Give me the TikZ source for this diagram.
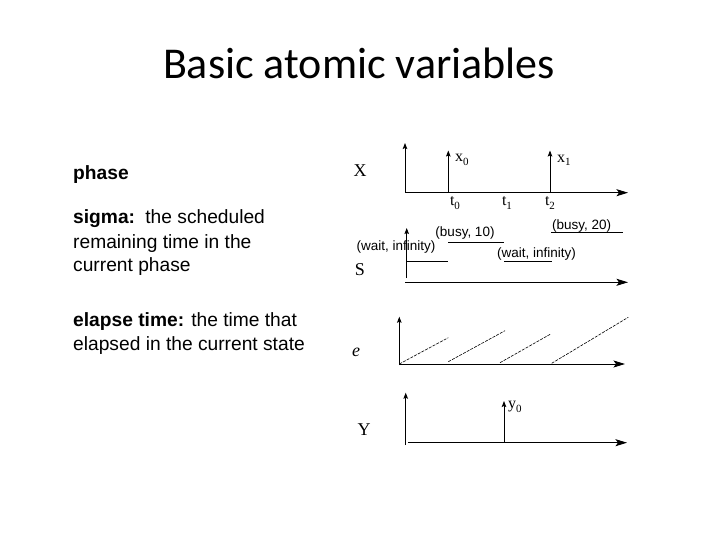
\documentclass[tikz,border=0pt]{standalone}
\usepackage{fontspec}
\setmainfont{Liberation Sans}
\newfontfamily\titlefont{Carlito}
\newfontfamily\serifont{Liberation Serif}
\usetikzlibrary{arrows.meta}
\newcommand{\lowsub}[1]{\raisebox{-0.45ex}{\fontsize{11}{12}\selectfont #1}}
\tikzset{
  hax/.style={line width=1pt,arrows={-Stealth[length=11.5pt,width=7pt,inset=2.5pt]}},
  vax/.style={line width=0.9pt,arrows={-Stealth[length=6pt,width=4.5pt,inset=1pt]}},
  seg/.style={line width=0.8pt},
  ramp/.style={line width=0.6pt,dash pattern=on 3pt off 1.2pt},
  bodytxt/.style={anchor=base west,inner sep=0pt,font=\fontsize{19.2}{23}\selectfont},
  smalllbl/.style={inner sep=0pt,font=\fontsize{13.5}{15}\selectfont},
  serlbl/.style={inner sep=0pt,font=\serifont\fontsize{16}{18}\selectfont},
  biglbl/.style={inner sep=0pt,font=\serifont\fontsize{18}{20}\selectfont},
}
\begin{document}
\begin{tikzpicture}[x=1pt,y=-1pt]
\path[use as bounding box,fill=white] (0,0) rectangle (720,540);
% title
\node[anchor=base,inner sep=0pt,font=\titlefont\fontsize{44}{50}\selectfont] (title) at (359,79) {Basic atomic variables};
% left text
\node[bodytxt] (l1) at (73,180) {\textbf{phase}};
\node[bodytxt] (l2) at (73,224) {\textbf{sigma:}\, the scheduled};
\node[bodytxt] (l3) at (73,248) {remaining time in the};
\node[bodytxt] (l4) at (73,271.5) {current phase};
\node[bodytxt] (l5) at (73,326.5) {\textbf{elapse time:} the time that};
\node[bodytxt] (l6) at (73,350) {elapsed in the current state};
% X panel
\coordinate (xo) at (405,192.7);
\coordinate (xt) at (405,143);
\coordinate (xe) at (628,192.7);
\draw[vax] (xo) -- (xt);
\draw[hax] (xo) -- (xe);
\coordinate (a0b) at (448.3,192.7); \coordinate (a0t) at (448.3,150.5);
\coordinate (a1b) at (550,192.7); \coordinate (a1t) at (550,150.5);
\draw[vax] (a0b) -- (a0t);
\draw[vax] (a1b) -- (a1t);
\node[serlbl,anchor=west] (x0) at (455,160) {x\lowsub{0}};
\node[serlbl,anchor=west] (x1) at (557,160) {x\lowsub{1}};
\node[biglbl] (Xl) at (360,171) {X};
\node[serlbl] (t0) at (455,203) {t\lowsub{0}};
\node[serlbl] (t1) at (507,203) {t\lowsub{1}};
\node[serlbl] (t2) at (550,203) {t\lowsub{2}};
% S panel
\coordinate (so) at (406.7,278);
\coordinate (st) at (406.7,228);
\coordinate (sh) at (405,282.3);
\coordinate (se) at (628,282.3);
\draw[vax] (so) -- (st);
\draw[hax] (sh) -- (se);
\coordinate (w1a) at (406.7,261); \coordinate (w1b) at (447.7,261);
\coordinate (b1a) at (448,242.3); \coordinate (b1b) at (504,242.3);
\coordinate (w2a) at (504,261); \coordinate (w2b) at (551.7,261);
\coordinate (b2a) at (551,232.7); \coordinate (b2b) at (623,232.7);
\draw[seg] (w1a) -- (w1b);
\draw[seg] (b1a) -- (b1b);
\draw[seg] (w2a) -- (w2b);
\draw[seg] (b2a) -- (b2b);
\node[smalllbl] (lw1) at (396,247) {(wait, infinity)};
\node[smalllbl] (lb1) at (465,233) {(busy, 10)};
\node[smalllbl] (lw2) at (536.5,254) {(wait, infinity)};
\node[smalllbl] (lb2) at (581.7,226.5) {(busy, 20)};
\node[biglbl] (Sl) at (360,270) {S};
% e panel
\coordinate (eo) at (399.3,365);
\coordinate (et) at (399.3,316.7);
\coordinate (eh) at (399.3,364);
\coordinate (ee) at (625,364);
\draw[vax] (eo) -- (et);
\draw[hax] (eh) -- (ee);
\coordinate (r1a) at (399.3,364); \coordinate (r1b) at (448.3,337.7);
\coordinate (r2a) at (448.3,361.7); \coordinate (r2b) at (505,330.7);
\coordinate (r3a) at (500,362.7); \coordinate (r3b) at (550.7,334);
\coordinate (r4a) at (551.7,363.3); \coordinate (r4b) at (628.3,317.3);
\draw[ramp] (r1a) -- (r1b);
\draw[ramp] (r2a) -- (r2b);
\draw[ramp] (r3a) -- (r3b);
\draw[ramp] (r4a) -- (r4b);
\node[biglbl,font=\serifont\itshape\fontsize{18}{20}\selectfont] (el) at (356,352) {e};
% Y panel
\coordinate (yo) at (405.7,445);
\coordinate (yt) at (405.7,392.7);
\coordinate (yh) at (408,442.7);
\coordinate (ye) at (627,442.7);
\draw[vax] (yo) -- (yt);
\draw[hax] (yh) -- (ye);
\coordinate (y0b) at (504,442.7); \coordinate (y0t) at (504,401);
\draw[vax] (y0b) -- (y0t);
\node[serlbl,anchor=west] (y0) at (508,407) {y\lowsub{0}};
\node[biglbl] (Yl) at (364,430) {Y};
\end{tikzpicture}
\end{document}
